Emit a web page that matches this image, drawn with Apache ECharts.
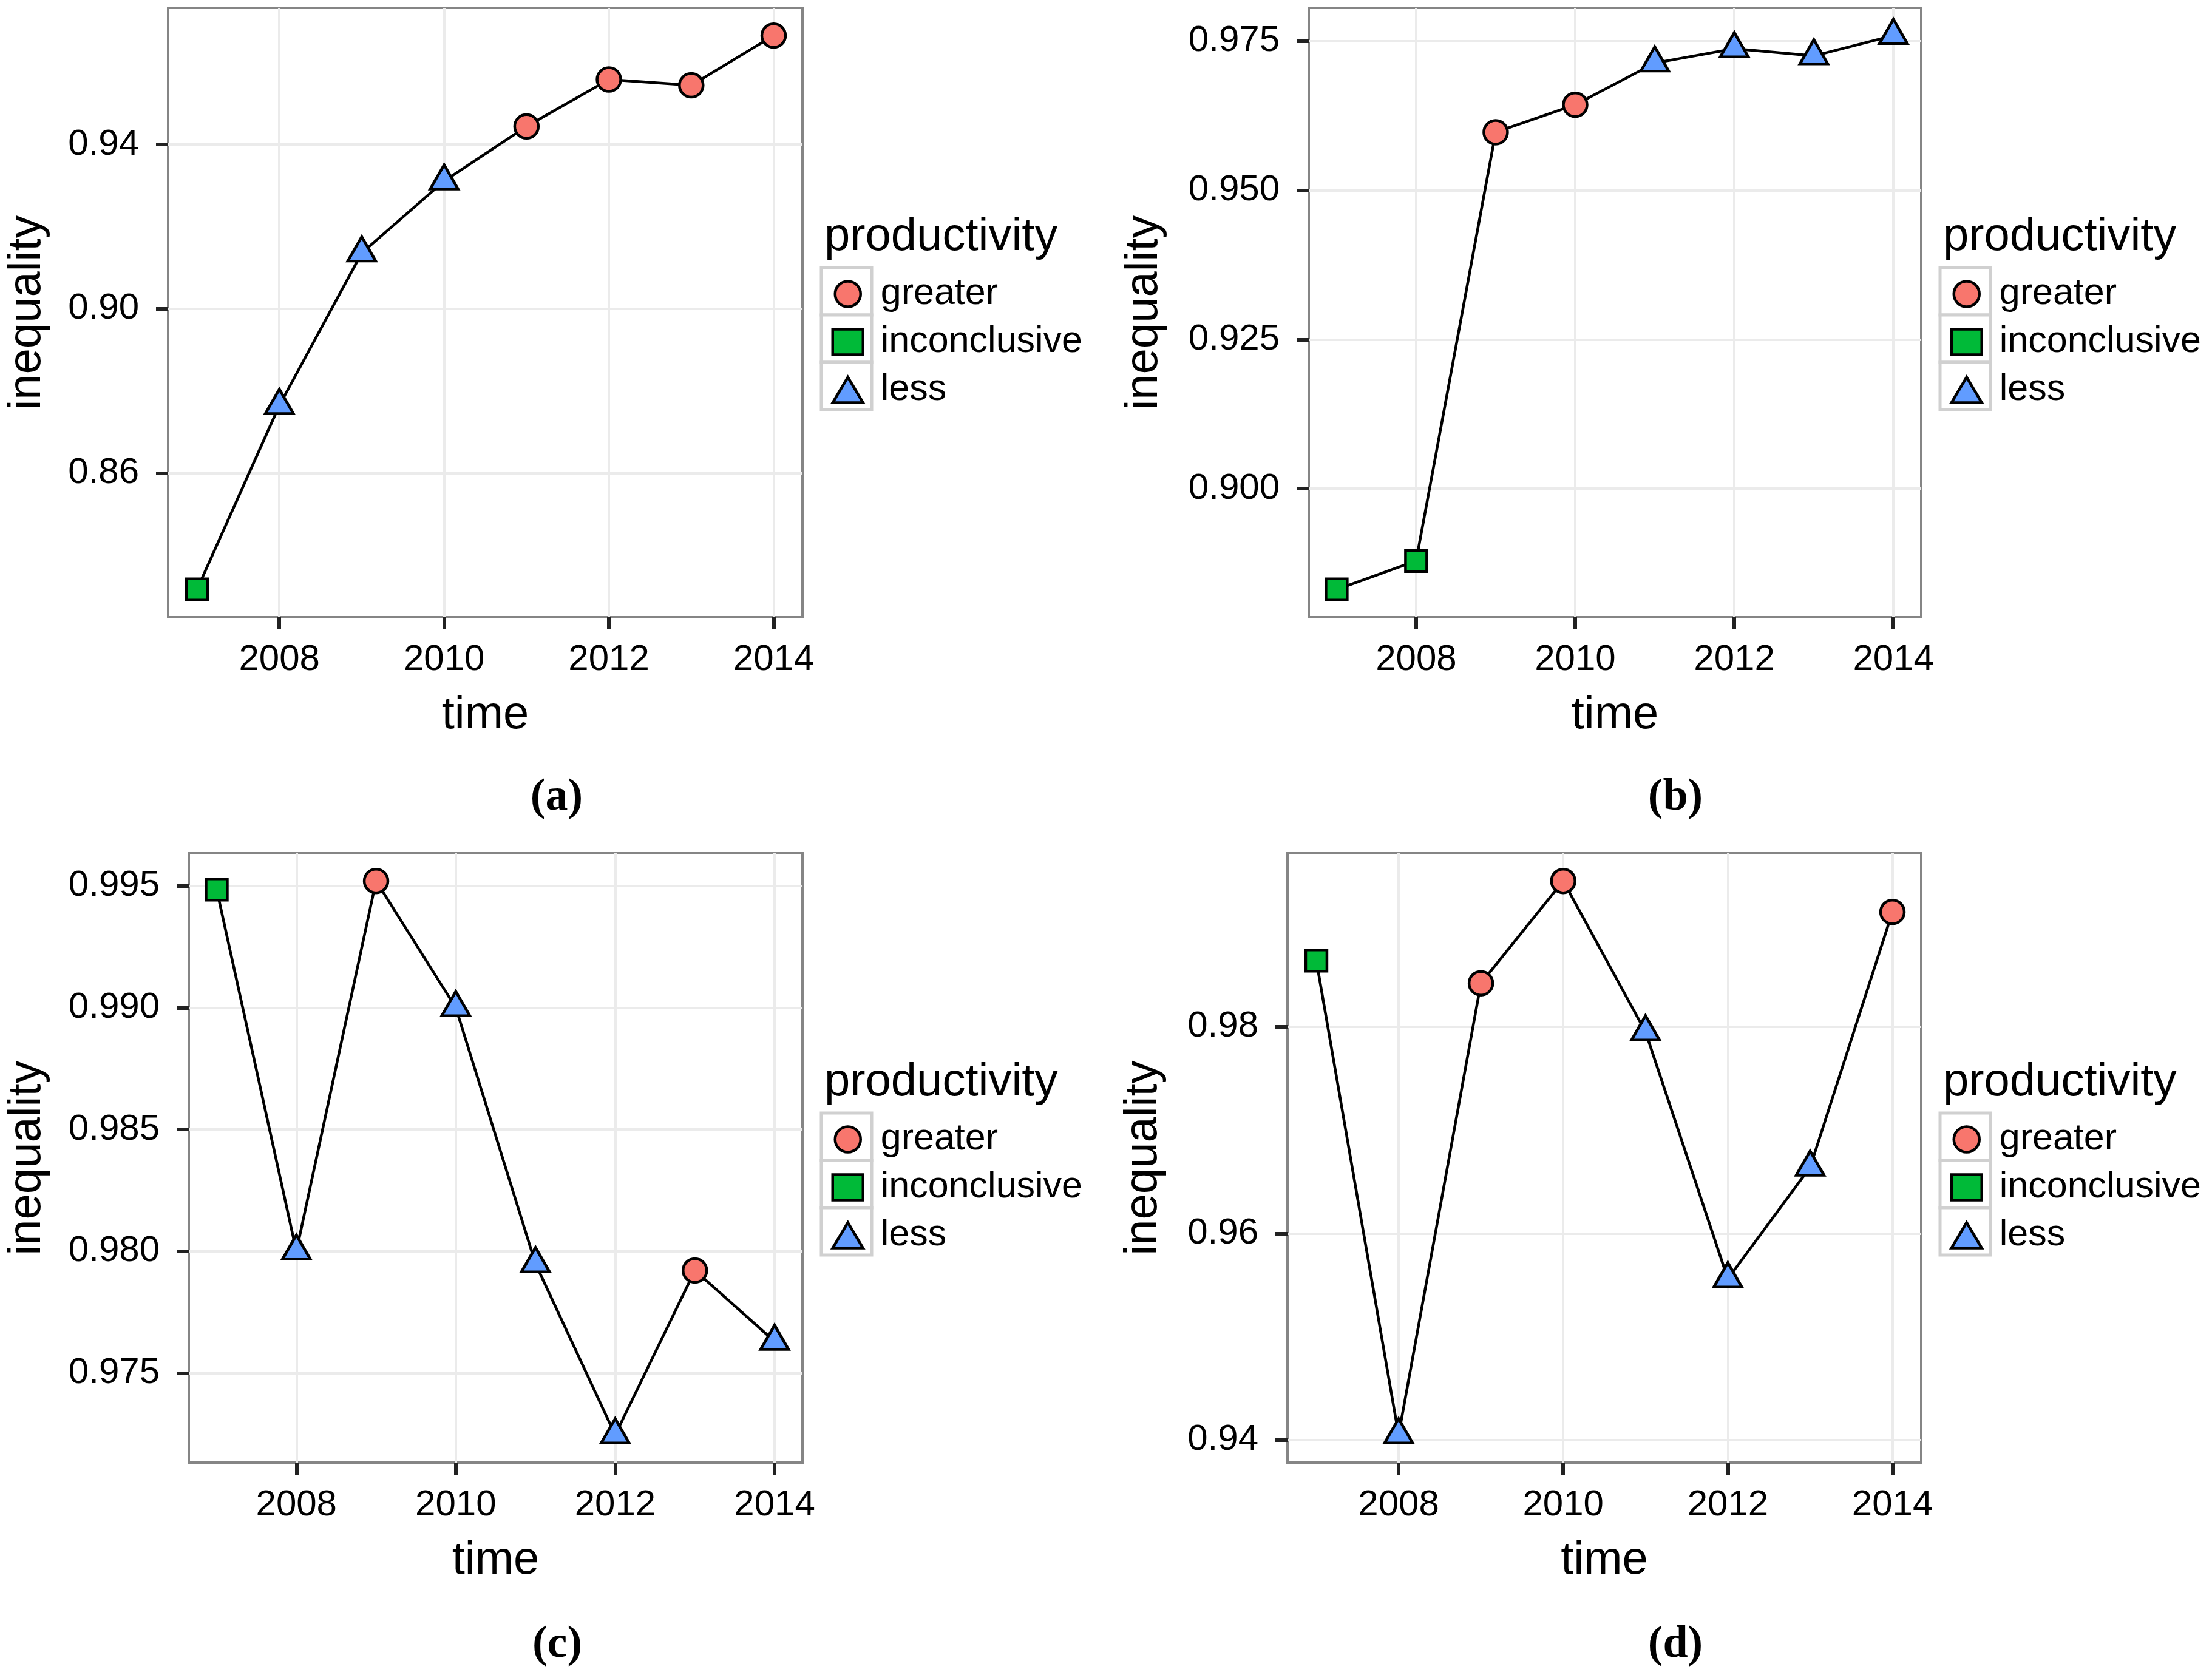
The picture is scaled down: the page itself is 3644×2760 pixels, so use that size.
<!DOCTYPE html>
<html>
<head>
<meta charset="utf-8">
<title>inequality vs time</title>
<script src="https://cdn.jsdelivr.net/npm/echarts@6/dist/echarts.min.js"></script>
<style>
  html, body { margin: 0; padding: 0; background: #fff; }
  #chart { width: 3644px; height: 2760px; }
</style>
</head>
<body>
<div id="chart"></div>
<script>
(function () {
    'use strict'

    // values
    var years = [2007, 2008, 2009, 2010, 2011, 2012, 2013, 2014];
    var classes = ['greater', 'inconclusive', 'less'];

    var inequalityA = [0.8317, 0.8765, 0.9136, 0.9311, 0.9444, 0.9558, 0.9544, 0.9665];
    var productivityA = ['inconclusive', 'less', 'less', 'less', 'greater', 'greater', 'greater', 'greater'];

    var inequalityB = [0.8831, 0.8879, 0.9597, 0.9643, 0.9713, 0.9737, 0.9725, 0.9759];
    var productivityB = ['inconclusive', 'inconclusive', 'greater', 'greater', 'less', 'less', 'less', 'less'];

    var inequalityC = [0.99485, 0.9800, 0.9952, 0.9900, 0.97949, 0.97246, 0.97921, 0.9763];
    var productivityC = ['inconclusive', 'less', 'greater', 'less', 'less', 'less', 'greater', 'less'];

    var inequalityD = [0.9864, 0.9405, 0.9842, 0.9941, 0.9795, 0.9556, 0.9664, 0.9911];
    var productivityD = ['inconclusive', 'less', 'greater', 'greater', 'less', 'less', 'less', 'greater'];

    var xTicks = [2008, 2010, 2012, 2014];
    var xMinor = [2007, 2009, 2011, 2013];

    var yTicksA = [0.86, 0.90, 0.94];
    var yLabelsA = ['0.86', '0.90', '0.94'];
    var yMinorA = [0.84, 0.88, 0.92, 0.96];

    var yTicksB = [0.900, 0.925, 0.950, 0.975];
    var yLabelsB = ['0.900', '0.925', '0.950', '0.975'];
    var yMinorB = [0.8875, 0.9125, 0.9375, 0.9625];

    var yTicksC = [0.975, 0.980, 0.985, 0.990, 0.995];
    var yLabelsC = ['0.975', '0.980', '0.985', '0.990', '0.995'];
    var yMinorC = [0.9725, 0.9775, 0.9825, 0.9875, 0.9925];

    var yTicksD = [0.94, 0.96, 0.98];
    var yLabelsD = ['0.94', '0.96', '0.98'];
    var yMinorD = [0.95, 0.97, 0.99];

    var captions = ['(a)', '(b)', '(c)', '(d)'];

    var FONT = 'Liberation Sans';
    var colors = { greater: '#F8766D', inconclusive: '#00BA38', less: '#619CFF' };
    var shapes = {
        greater: { symbol: 'circle', size: 39, offset: [0, 0] },
        inconclusive: { symbol: 'rect', size: 35, offset: [0, 0] },
        less: { symbol: 'triangle', size: [46, 40], offset: [0, -6.7] }
    };

    // panel boxes in pixels (plot area) and a few label offsets
    var panels = [
        { values: inequalityA, cls: productivityA, ticks: yTicksA, labels: yLabelsA, minor: yMinorA,
          left: 277, right: 1322, top: 13, bottom: 1017, yGap: 194, cap: [917, 1320] },
        { values: inequalityB, cls: productivityB, ticks: yTicksB, labels: yLabelsB, minor: yMinorB,
          left: 2156, right: 3165, top: 13, bottom: 1017, yGap: 233, cap: [2760, 1320] },
        { values: inequalityC, cls: productivityC, ticks: yTicksC, labels: yLabelsC, minor: yMinorC,
          left: 311, right: 1322, top: 1406, bottom: 2410, yGap: 228, cap: [918, 2716] },
        { values: inequalityD, cls: productivityD, ticks: yTicksD, labels: yLabelsD, minor: yMinorD,
          left: 2121, right: 3165, top: 1406, bottom: 2410, yGap: 199, cap: [2760, 2716] }
    ];

    // ggplot style 5% padding around the data range
    function padMin(v) { return v.min - (v.max - v.min) * 0.05 }
    function padMax(v) { return v.max + (v.max - v.min) * 0.05 }

    function labelFor(ticks, labels) {
        return function (v) {
            for (var k = 0; k < ticks.length; k++) {
                if (Math.abs(ticks[k] - v) < 1e-9) return labels[k];
            }
            return '';
        }
    }

    var grid = [], xAxis = [], yAxis = [], series = [], legend = [], title = [], graphic = [];

    panels.forEach(function (p, i) {
        grid.push({
            left: p.left, top: p.top,
            width: p.right - p.left, height: p.bottom - p.top,
            show: true, backgroundColor: '#fff',
            borderColor: '#858585', borderWidth: 4
        });

        // main axes
        xAxis.push({
            gridIndex: i, type: 'value', min: padMin, max: padMax,
            axisLine: { show: false },
            axisTick: { show: true, customValues: xTicks, length: 20, lineStyle: { color: '#222', width: 6 } },
            axisLabel: { customValues: xTicks, margin: 40, fontSize: 60, color: '#000', fontFamily: FONT,
                         formatter: function (v) { return String(v) } },
            splitLine: { show: true, lineStyle: { color: '#EBEBEB', width: 4 } },
            name: 'time', nameLocation: 'middle', nameGap: 124,
            nameTextStyle: { fontSize: 76, color: '#000', fontFamily: FONT }
        });
        yAxis.push({
            gridIndex: i, type: 'value', min: padMin, max: padMax,
            axisLine: { show: false },
            axisTick: { show: true, customValues: p.ticks, length: 20, lineStyle: { color: '#222', width: 6 } },
            axisLabel: { customValues: p.ticks, margin: 48, fontSize: 60, color: '#000', fontFamily: FONT,
                         formatter: labelFor(p.ticks, p.labels) },
            splitLine: { show: true, lineStyle: { color: '#EBEBEB', width: 4 } },
            name: 'inequality', nameLocation: 'middle', nameGap: p.yGap,
            nameTextStyle: { fontSize: 76, color: '#000', fontFamily: FONT }
        });
    });

    // minor grid lines come from a second, invisible axis pair on each grid
    panels.forEach(function (p, i) {
        xAxis.push({
            gridIndex: i, type: 'value', min: padMin, max: padMax, position: 'bottom',
            axisLine: { show: false },
            axisTick: { show: false, customValues: xMinor },
            axisLabel: { show: false, customValues: xMinor },
            splitLine: { show: true, lineStyle: { color: '#F5F5F5', width: 3 } }
        });
        yAxis.push({
            gridIndex: i, type: 'value', min: padMin, max: padMax, position: 'left',
            axisLine: { show: false },
            axisTick: { show: false, customValues: p.minor },
            axisLabel: { show: false, customValues: p.minor },
            splitLine: { show: true, lineStyle: { color: '#F5F5F5', width: 3 } }
        });
    });

    panels.forEach(function (p, i) {
        var pts = years.map(function (y, k) { return [y, p.values[k]] });

        series.push({
            type: 'line', xAxisIndex: i, yAxisIndex: i,
            data: pts, symbol: 'none', silent: true, z: 3,
            lineStyle: { color: '#000', width: 4.5 }
        });

        classes.forEach(function (c) {
            var s = shapes[c];
            series.push({
                type: 'scatter', name: c, xAxisIndex: i, yAxisIndex: i,
                data: pts.filter(function (pt, k) { return p.cls[k] === c }),
                symbol: s.symbol, symbolSize: s.size, symbolOffset: s.offset, z: 4,
                itemStyle: { color: colors[c], borderColor: '#000', borderWidth: 4.5, opacity: 1 }
            });
        });

        // legend: title, gray key boxes, entries
        var boxLeft = p.right + 31;
        var boxTop = p.top + 428;
        title.push({
            text: 'productivity', left: p.right + 36, top: p.top + 340, padding: 0,
            textStyle: { fontSize: 76, fontWeight: 'normal', color: '#000', fontFamily: FONT }
        });
        for (var k = 0; k < 3; k++) {
            graphic.push({
                type: 'rect', z: -1,
                shape: { x: boxLeft, y: boxTop + k * 78, width: 83, height: 78 },
                style: { fill: '#fff', stroke: '#D0D0D0', lineWidth: 5 }
            });
        }
        legend.push({
            data: classes, orient: 'vertical', padding: 0,
            left: boxLeft + 41.5 - 25, top: p.top + 441,
            itemWidth: 50, itemHeight: 42, itemGap: 18,
            selectedMode: false,
            itemStyle: { borderColor: '#000', borderWidth: 4.5 },
            textStyle: { fontSize: 61, color: '#000', fontFamily: FONT, padding: [0, 0, 0, 24] }
        });

        title.push({
            text: captions[i], left: p.cap[0], top: p.cap[1] - 42, textAlign: 'center', padding: 0,
            textStyle: { fontSize: 74, fontWeight: 'bold', color: '#000', fontFamily: 'Liberation Serif' }
        });
    });

    var chart = echarts.init(document.getElementById('chart'));
    chart.setOption({
        animation: false,
        backgroundColor: '#fff',
        title: title,
        legend: legend,
        grid: grid,
        xAxis: xAxis,
        yAxis: yAxis,
        series: series,
        graphic: graphic
    });
})()
</script>
</body>
</html>
